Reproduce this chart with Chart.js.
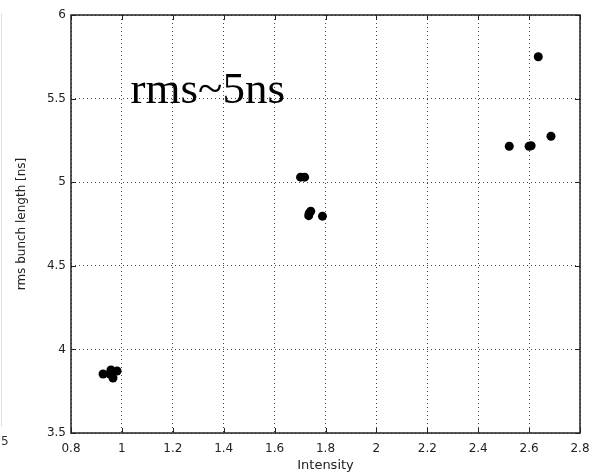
<!DOCTYPE html>
<html><head><meta charset="utf-8">
<script src="https://cdn.jsdelivr.net/npm/chart.js@4/dist/chart.umd.min.js"></script>
<style>html,body{margin:0;padding:0;background:#fff;} canvas{display:block;}</style>
</head><body>
<canvas id="c" width="593" height="473"></canvas>
<script>
// ---- data ----
const intensity   = [0.926, 0.957, 0.981, 0.965, 0.953, 1.702, 1.718, 1.742, 1.736, 1.734, 1.788, 2.522, 2.600, 2.608, 2.636, 2.686];
const bunchLength = [3.853, 3.877, 3.871, 3.829, 3.853, 5.030, 5.030, 4.826, 4.815, 4.800, 4.797, 5.215, 5.215, 5.218, 5.750, 5.275];
const xTickLabels = ['0.8','1','1.2','1.4','1.6','1.8','2','2.2','2.4','2.6','2.8'];
const yTickLabels = ['3.5','4','4.5','5','5.5','6'];
const xTitle = 'Intensity';
const yTitle = 'rms bunch length [ns]';
const noteText = 'rms~5ns';
const strayText = '5';

const points = intensity.map((v, i) => ({x: v, y: bunchLength[i]}));
const tickFont = {family: 'DejaVu Sans', size: 12};

const framePlugin = {
  id: 'frame',
  beforeDraw(chart) {
    const ctx = chart.ctx;
    ctx.save();
    ctx.strokeStyle = '#e2e2e2';
    ctx.lineWidth = 1;
    ctx.beginPath(); ctx.moveTo(1.5, 13); ctx.lineTo(1.5, 427); ctx.stroke();
    ctx.fillStyle = '#333';
    ctx.font = '12px "DejaVu Sans"';
    ctx.textBaseline = 'middle';
    ctx.textAlign = 'left';
    ctx.fillText(strayText, 1, 442);
    ctx.restore();
  },
  afterDraw(chart) {
    const {ctx, chartArea: a, scales: {x, y}} = chart;
    ctx.save();
    ctx.strokeStyle = '#222';
    ctx.lineWidth = 1.5;
    ctx.setLineDash([]);
    ctx.strokeRect(a.left, a.top, a.right - a.left, a.bottom - a.top);
    ctx.lineWidth = 1;
    ctx.beginPath();
    x.ticks.forEach(t => {
      const px = Math.round(x.getPixelForValue(t.value)) + 0.5;
      ctx.moveTo(px, a.bottom); ctx.lineTo(px, a.bottom - 5);
      ctx.moveTo(px, a.top); ctx.lineTo(px, a.top + 5);
    });
    y.ticks.forEach(t => {
      const py = Math.round(y.getPixelForValue(t.value)) + 0.5;
      ctx.moveTo(a.left, py); ctx.lineTo(a.left + 5, py);
      ctx.moveTo(a.right, py); ctx.lineTo(a.right - 5, py);
    });
    ctx.stroke();
    // annotation text
    ctx.fillStyle = '#000';
    ctx.font = '45px "Liberation Serif"';
    ctx.textAlign = 'left';
    ctx.textBaseline = 'alphabetic';
    ctx.fillText(noteText, x.getPixelForValue(1.034), y.getPixelForValue(5.476));
    ctx.restore();
  }
};

new Chart(document.getElementById('c'), {
  type: 'scatter',
  data: {
    datasets: [{
      data: points,
      backgroundColor: '#000',
      borderColor: '#000',
      borderWidth: 0,
      pointRadius: 4.5,
      pointHoverRadius: 4.5
    }]
  },
  options: {
    responsive: false,
    animation: false,
    devicePixelRatio: 1,
    layout: {padding: {left: 0, right: 13, top: 15, bottom: 0}},
    plugins: {legend: {display: false}, tooltip: {enabled: false}},
    scales: {
      x: {
        type: 'linear', min: 0.8, max: 2.8,
        afterBuildTicks(s) { s.ticks = xTickLabels.map(l => ({value: parseFloat(l)})); },
        afterFit(s) { s.height = 40; s.paddingLeft = 0; s.paddingRight = 0; },
        grid: {color: '#444', lineWidth: 1, drawTicks: false},
        border: {display: false, dash: [1, 3]},
        ticks: {padding: 9, color: '#222', font: tickFont, maxRotation: 0, autoSkip: false,
                callback: (v, i) => xTickLabels[i]},
        title: {display: true, text: xTitle, color: '#222', font: {family: 'DejaVu Sans', size: 13},
                padding: {top: 0, bottom: 0}}
      },
      y: {
        type: 'linear', min: 3.5, max: 6,
        afterBuildTicks(s) { s.ticks = yTickLabels.map(l => ({value: parseFloat(l)})); },
        afterFit(s) { s.width = 71; s.paddingTop = 0; s.paddingBottom = 0; },
        grid: {color: '#444', lineWidth: 1, drawTicks: false},
        border: {display: false, dash: [1, 3]},
        ticks: {padding: 5, color: '#222', font: tickFont, autoSkip: false,
                callback: (v, i) => yTickLabels[i]},
        title: {display: true, text: yTitle, color: '#222', font: {family: 'DejaVu Sans', size: 12},
                padding: {top: 15, bottom: 0}}
      }
    }
  },
  plugins: [framePlugin]
});
</script>
</body></html>
